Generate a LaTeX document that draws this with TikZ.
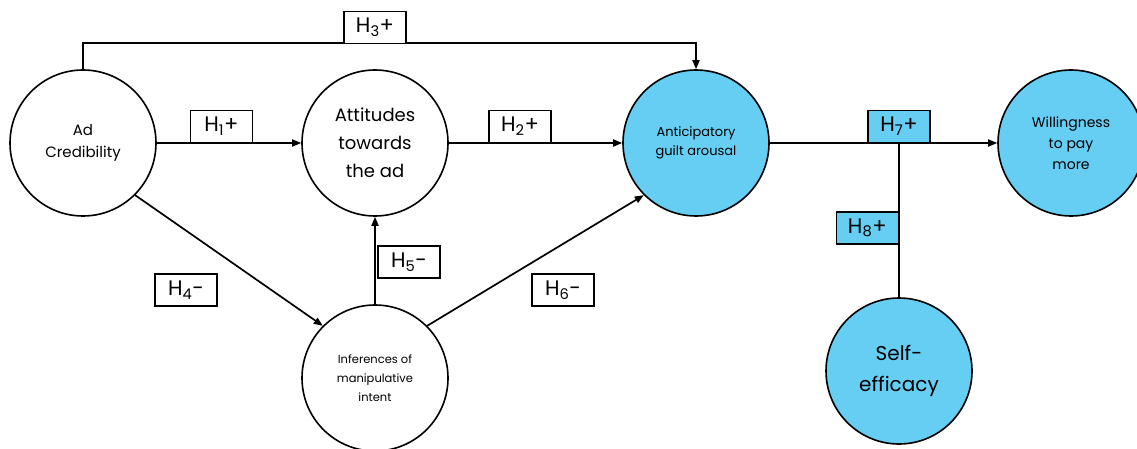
\documentclass[tikz,border=0pt]{standalone}
\usepackage{fontspec}
\setmainfont{Poppins}
\usetikzlibrary{arrows.meta}
\definecolor{cblue}{RGB}{102,206,243}
\begin{document}
\begin{tikzpicture}[x=1pt,y=-1pt,
  var/.style={circle,draw,line width=1.6pt,minimum size=146pt,inner sep=0pt,align=center,fill=white},
  bvar/.style={var,fill=cblue},
  lab/.style={draw,line width=1.4pt,fill=white,minimum width=62pt,minimum height=32pt,inner sep=0pt,font=\fontsize{21}{22}\selectfont},
  blab/.style={lab,fill=cblue},
  conn/.style={line width=1.7pt},
  arr/.style={conn,-{Triangle[length=9pt,width=7pt]}}]
\useasboundingbox (0,0) rectangle (1137,449);
% variables
\node[var,font=\fontsize{15}{22}\selectfont] (ad) at (83,143) {Ad\\Credibility};
\node[var,font=\fontsize{18}{28}\selectfont] (att) at (375,143) {Attitudes\\towards\\the ad};
\node[bvar,font=\fontsize{13}{19}\selectfont] (ant) at (696,143) {Anticipatory\\guilt arousal};
\node[bvar,font=\fontsize{14}{21}\selectfont] (wil) at (1071,143) {Willingness\\to pay\\more};
\node[bvar,font=\fontsize{20}{31}\selectfont] (self) at (899,371) {Self-\\efficacy};
\node[var,font=\fontsize{11.5}{19}\selectfont] (inf) at (375,378) {Inferences of\\manipulative\\intent};
% connectors
\draw[arr] (ad) -- (att);
\draw[arr] (att) -- (ant);
\draw[arr] (ant) -- (wil);
\draw[arr] (ad.north) -- ++(0,-26) -| (ant.north);
\draw[arr] (inf) -- (att);
\draw[arr] (ad.-45) -- (inf.135);
\draw[arr] (inf.45) -- (ant.225);
\draw[conn] (self.north) -- (self.north |- ant.east);
% labels
\node[lab,anchor=south] (h3) at (375,44) {H\textsubscript{3}+};
\node[lab,anchor=south] (h1) at (221.5,143) {H\textsubscript{1}+};
\node[lab,anchor=south] (h2) at (520,143) {H\textsubscript{2}+};
\node[blab,anchor=south] (h7) at (899,143) {H\textsubscript{7}+};
\node[blab,anchor=east] (h8) at (899,228) {H\textsubscript{8}+};
\node[lab] (h4) at (186,290) {H\textsubscript{4}-};
\node[lab] (h5) at (409,262) {H\textsubscript{5}-};
\node[lab] (h6) at (563,290) {H\textsubscript{6}-};
\end{tikzpicture}
\end{document}
